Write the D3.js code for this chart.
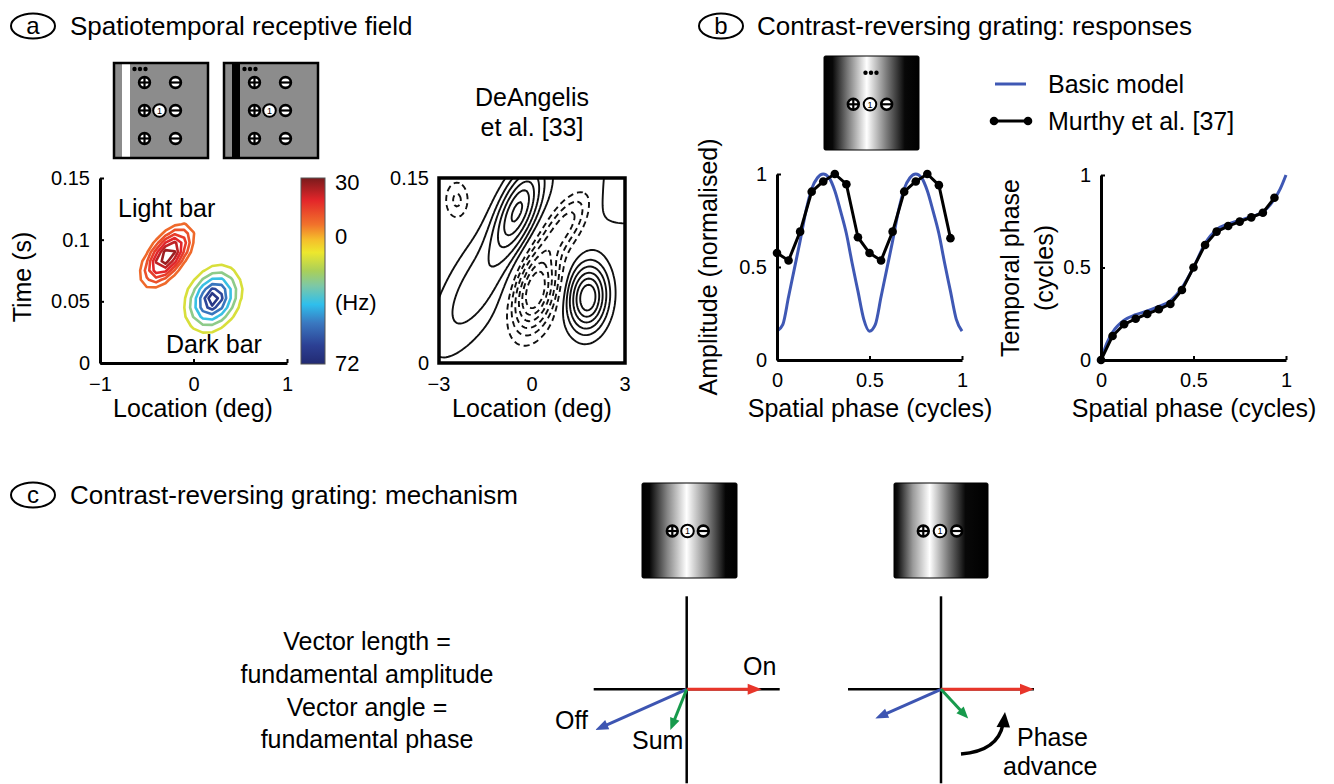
<!DOCTYPE html>
<html><head><meta charset="utf-8">
<script src="https://cdn.jsdelivr.net/npm/d3@7"></script>
<style>
html,body{margin:0;padding:0;background:#fff;}
svg{display:block;font-family:"Liberation Sans",Arial,Helvetica,sans-serif;}
</style></head><body>
<svg id="c" width="1334" height="784"></svg>
<script>
// ================= DATA =================
// Panel a, left: receptive field (blobs)
const rfLocTicks = [-1, 0, 1];
const rfLocTickLabels = ["−1", "0", "1"];
const rfTimeTicks = [0, 0.05, 0.1, 0.15];
const rfTimeTickLabels = ["0", "0.05", "0.1", "0.15"];
// [loc (deg), time (s), sd loc, sd time, correlation, amplitude (Hz)]
const rfBlobs = [
  [-0.28, 0.087, 0.16, 0.0145, 0.6, 30],
  [0.21, 0.052, 0.17, 0.015, 0.25, -72]
];
const lightLevels = [6, 10, 14, 18, 22, 26];       // Hz
const darkLevels = [-14, -26, -38, -50, -60, -66];  // Hz
// colour bar
const cbarRange = [30, -72];
const cbarStopPos = [0, 0.12, 0.25, 0.33, 0.40, 0.50, 0.58, 0.68, 0.78, 0.90, 1];
const cbarStopColors = ["#7a1a1c", "#e3262a", "#f1722b", "#f5bd2b", "#ede72d", "#a9cf5a", "#7dc8a6", "#2fbfec", "#3a78c0", "#2c4094", "#222a72"];
const cbarLabels = ["30", "0", "(Hz)", "72"];
const cbarLabelAt = [27.5, -2.2, -38, -71.5];

// Panel a, right: DeAngelis et al.
const deaLocTicks = [-3, 0, 3];
const deaLocTickLabels = ["−3", "0", "3"];
const deaTimeTicks = [0, 0.15];
const deaTimeTickLabels = ["0", "0.15"];
// [loc (deg), time (s), sd along (px), sd across (px), tilt (deg), amplitude]
const deaBlobs = [
  [-0.45, 0.125, 30, 12, 68, 0.75],
  [-1.74, 0.063, 55, 20, 60, 0.3],
  [0.1, 0.058, 26, 13, 75, -1.0],
  [1.06, 0.112, 30, 11, 55, -0.45],
  [1.8, 0.053, 22, 13, 85, 0.95],
  [-2.42, 0.132, 13, 8, 90, -0.25],
  [3.0, 0.14, 35, 28, 0, 0.2]
];
const deaLevels = [0.1, 0.22, 0.35, 0.5, 0.65, 0.8];

// Panel b
const phaseTicks = [0, 0.5, 1];
const phaseTickLabels = ["0", "0.5", "1"];
const murthyX = [0, 0.0625, 0.125, 0.1875, 0.25, 0.3125, 0.375, 0.4375, 0.5, 0.5625, 0.625, 0.6875, 0.75, 0.8125, 0.875, 0.9375];
const murthyAmp = [0.575, 0.535, 0.69, 0.905, 0.96, 1.0, 0.945, 0.66, 0.575, 0.535, 0.69, 0.905, 0.96, 1.0, 0.94, 0.655];
const murthyPhase = [0, 0.13, 0.193, 0.223, 0.249, 0.274, 0.303, 0.378, 0.5, 0.622, 0.694, 0.724, 0.748, 0.771, 0.796, 0.877];
const modelAmpX = [0, 0.03125, 0.0625, 0.09375, 0.125, 0.15625, 0.1875, 0.21875, 0.25, 0.28125, 0.3125, 0.34375, 0.375, 0.40625, 0.4375, 0.46875, 0.5,
  0.53125, 0.5625, 0.59375, 0.625, 0.65625, 0.6875, 0.71875, 0.75, 0.78125, 0.8125, 0.84375, 0.875, 0.90625, 0.9375, 0.96875, 1];
const modelAmp = [0.155, 0.19, 0.34, 0.49, 0.64, 0.80, 0.92, 0.98, 1.0, 0.98, 0.91, 0.80, 0.68, 0.52, 0.37, 0.22, 0.155,
  0.19, 0.34, 0.49, 0.64, 0.80, 0.92, 0.98, 1.0, 0.98, 0.91, 0.80, 0.68, 0.52, 0.37, 0.22, 0.155];
const modelPhaseX = [0, 0.03125, 0.0625, 0.125, 0.1875, 0.25, 0.3125, 0.375, 0.4375, 0.5, 0.5625, 0.625, 0.6875, 0.75, 0.8125, 0.875, 0.9375, 0.96875, 1];
const modelPhase = [0, 0.09, 0.15, 0.215, 0.245, 0.265, 0.29, 0.32, 0.39, 0.5, 0.63, 0.705, 0.735, 0.755, 0.775, 0.8, 0.87, 0.925, 1.0];
const legendLabels = ["Basic model", "Murthy et al. [37]"];

// Panel c: vectors (amplitude, angle in degrees)
const onAmp = [0.75, 0.93], onAngle = [0, 0];
const offAmp = [1.0, 0.72], offAngle = [-156, -156];
const vecLabels = ["On", "Off", "Sum"];
const mechText = ["Vector length =", "fundamental amplitude", "Vector angle =", "fundamental phase"];

// grating profiles (position fraction, grey)
const gratingB = [[0, "#000"], [0.09, "#080808"], [0.25, "#7a7a7a"], [0.45, "#fff"], [0.66, "#7a7a7a"], [0.85, "#080808"], [1, "#000"]];
const gratingC1 = [[0, "#000"], [0.08, "#050505"], [0.27, "#888"], [0.47, "#fff"], [0.68, "#888"], [0.88, "#050505"], [1, "#000"]];
const gratingC2 = [[0, "#000"], [0.04, "#111"], [0.2, "#9a9a9a"], [0.38, "#fff"], [0.58, "#777"], [0.76, "#080808"], [1, "#000"]];

// ================= DRAWING =================
const svg = d3.select("#c");
svg.append("rect").attr("width", 1334).attr("height", 784).attr("fill", "#fff");
const defs = svg.append("defs");

function txt(x, y, s, size, anchor, g) {
  return (g || svg).append("text").attr("x", x).attr("y", y).attr("font-size", size)
    .attr("text-anchor", anchor || "start").attr("fill", "#000").text(s);
}
function vtxt(x, y, s, size) {
  return svg.append("text").attr("transform", `translate(${x},${y}) rotate(-90)`)
    .attr("font-size", size).attr("text-anchor", "middle").text(s);
}
function panelLabel(cx, cy, letter, title, tx) {
  svg.append("ellipse").attr("cx", cx).attr("cy", cy).attr("rx", 22).attr("ry", 12.5)
    .attr("fill", "none").attr("stroke", "#000").attr("stroke-width", 2);
  txt(cx, cy + 8, letter, 24, "middle");
  txt(tx, cy + 9, title, 26);
}
panelLabel(33, 26, "a", "Spatiotemporal receptive field", 70);
panelLabel(721, 26, "b", "Contrast-reversing grating: responses", 757);
panelLabel(33, 495, "c", "Contrast-reversing grating: mechanism", 70);

// symbols
function sym(g, type, cx, cy) {
  if (type === "one") {
    g.append("circle").attr("cx", cx).attr("cy", cy).attr("r", 6.3).attr("fill", "#fff").attr("stroke", "#000").attr("stroke-width", 2);
    g.append("text").attr("x", cx).attr("y", cy + 3.3).attr("font-size", 9).attr("text-anchor", "middle").text("1");
    return;
  }
  g.append("circle").attr("cx", cx).attr("cy", cy).attr("r", 5.4).attr("fill", "#fff").attr("stroke", "#000").attr("stroke-width", 2.6);
  g.append("line").attr("x1", cx - 5).attr("x2", cx + 5).attr("y1", cy).attr("y2", cy).attr("stroke", "#000").attr("stroke-width", 2.2);
  if (type === "plus")
    g.append("line").attr("x1", cx).attr("x2", cx).attr("y1", cy - 5).attr("y2", cy + 5).attr("stroke", "#000").attr("stroke-width", 2.2);
}
function dots(g, cx, cy) {
  [-5.5, 0, 5.5].forEach(d => g.append("circle").attr("cx", cx + d).attr("cy", cy).attr("r", 2.2).attr("fill", "#000"));
}

// ---- panel a icons ----
[[114, "#fff"], [224, "#000"]].forEach(([x0, barCol]) => {
  const g = svg.append("g");
  g.append("rect").attr("x", x0).attr("y", 63).attr("width", 94).attr("height", 95).attr("fill", "#8c8c8c");
  g.append("rect").attr("x", x0 + 8).attr("y", 63).attr("width", 8).attr("height", 95).attr("fill", barCol);
  g.append("rect").attr("x", x0).attr("y", 63).attr("width", 94).attr("height", 95).attr("fill", "none").attr("stroke", "#000").attr("stroke-width", 2.5);
  dots(g, x0 + 26, 69);
  [19.5, 47.5, 75.5].forEach(dy => { sym(g, "plus", x0 + 30.5, 63 + dy); sym(g, "minus", x0 + 61.5, 63 + dy); });
  sym(g, "one", x0 + 45.5, 63 + 47.5);
});

// ---- contour helpers ----
function field(fn, x0, x1, nx, t0, t1, ny) {
  const dx = (x1 - x0) / (nx - 1), dt = (t1 - t0) / (ny - 1);
  const vals = new Array(nx * ny).fill(0);
  for (let j = 0; j < ny; j++) for (let i = 0; i < nx; i++) vals[j * nx + i] = fn(x0 + i * dx, t0 + j * dt);
  return { vals, nx, ny, x0, dx, t0, dt };
}
function contourPaths(grid, levels, sign, xs, ys) {
  const v = grid.vals.map(d => d * sign);
  const cs = d3.contours().size([grid.nx, grid.ny]).thresholds(levels)(v);
  const proj = d3.geoTransform({
    point(px, py) { this.stream.point(xs(grid.x0 + (px - 0.5) * grid.dx), ys(grid.t0 + (py - 0.5) * grid.dt)); }
  });
  const path = d3.geoPath(proj);
  return cs.map(c => ({ value: c.value * sign, d: path(c) }));
}
function styleAxis(g, w) {
  g.selectAll(".domain").attr("stroke-width", w || 3).attr("stroke", "#000");
  g.selectAll(".tick line").attr("stroke-width", 2).attr("stroke", "#000");
  g.selectAll(".tick text").attr("font-size", 20).attr("font-family", null).attr("fill", "#000");
}

// ---- panel a left: RF contours ----
const xA = d3.scaleLinear([-1, 1], [100, 287]);
const yA = d3.scaleLinear([0, 0.15], [363, 178]);
const jet = d3.scaleLinear().domain(cbarStopPos).range(cbarStopColors);
const hzT = d3.scaleLinear(cbarRange, [0, 1]);
const rfFn = (x, t) => d3.sum(rfBlobs, ([bx, bt, sx, st, rho, a]) => {
  const u = (x - bx) / sx, v = (t - bt) / st;
  return a * Math.exp(-(u * u - 2 * rho * u * v + v * v) / (2 * (1 - rho * rho)));
});
const gridA = field(rfFn, -1, 1, 21, 0, 0.15, 21);
const gA = svg.append("g");
contourPaths(gridA, lightLevels, 1, xA, yA).concat(contourPaths(gridA, darkLevels.map(d => -d), -1, xA, yA))
  .forEach(c => gA.append("path").attr("d", c.d).attr("fill", "none").attr("stroke", jet(hzT(c.value))).attr("stroke-width", 2.6).attr("stroke-linejoin", "round"));
const axAx = svg.append("g").attr("transform", "translate(0,363)")
  .call(d3.axisBottom(xA).tickValues(rfLocTicks).tickFormat((d, i) => rfLocTickLabels[i]).tickSizeInner(-4).tickSizeOuter(0).tickPadding(14));
styleAxis(axAx);
const axAy = svg.append("g").attr("transform", "translate(100,0)")
  .call(d3.axisLeft(yA).tickValues(rfTimeTicks).tickFormat((d, i) => rfTimeTickLabels[i]).tickSizeInner(-4).tickSizeOuter(0).tickPadding(10));
styleAxis(axAy);
txt(118, 217, "Light bar", 25);
txt(166, 353, "Dark bar", 25);
vtxt(31, 277, "Time (s)", 25);
txt(193, 417, "Location (deg)", 25, "middle");

// colour bar
const cbY = d3.scaleLinear(cbarRange, [178, 364]);
const lg = defs.append("linearGradient").attr("id", "jet").attr("x1", 0).attr("x2", 0).attr("y1", 0).attr("y2", 1);
cbarStopPos.forEach((p, i) => lg.append("stop").attr("offset", p).attr("stop-color", cbarStopColors[i]));
svg.append("rect").attr("x", 301).attr("y", cbY(30)).attr("width", 24).attr("height", cbY(-72) - cbY(30))
  .attr("fill", "url(#jet)").attr("stroke", "#555").attr("stroke-width", 1);
cbarLabels.forEach((s, i) => txt(335, cbY(cbarLabelAt[i]) + 7.5, s, 22));

// ---- panel a right: DeAngelis ----
const xD = d3.scaleLinear([-3, 3], [439, 625]);
const yD = d3.scaleLinear([0, 0.15], [363, 178]);
defs.append("clipPath").attr("id", "deaClip").append("rect").attr("x", 439).attr("y", 178).attr("width", 186).attr("height", 185);
const deaFn = (x, t) => d3.sum(deaBlobs, ([bx, bt, sa, sc, ang, a]) => {
  const ddx = xD(x) - xD(bx), ddy = yD(bt) - yD(t);
  const th = ang * Math.PI / 180;
  const al = ddx * Math.cos(th) + ddy * Math.sin(th), ac = -ddx * Math.sin(th) + ddy * Math.cos(th);
  return a * Math.exp(-0.5 * (al * al / (sa * sa) + ac * ac / (sc * sc)));
});
const gridD = field(deaFn, -3.3, 3.3, 100, -0.01, 0.16, 100);
const gD = svg.append("g").attr("clip-path", "url(#deaClip)");
contourPaths(gridD, deaLevels, 1, xD, yD).forEach(c =>
  gD.append("path").attr("d", c.d).attr("fill", "none").attr("stroke", "#111").attr("stroke-width", 1.9));
contourPaths(gridD, deaLevels, -1, xD, yD).forEach(c =>
  gD.append("path").attr("d", c.d).attr("fill", "none").attr("stroke", "#111").attr("stroke-width", 1.9).attr("stroke-dasharray", "6,4"));
svg.append("rect").attr("x", xD(-3)).attr("y", yD(0.15)).attr("width", xD(3) - xD(-3)).attr("height", yD(0) - yD(0.15))
  .attr("fill", "none").attr("stroke", "#000").attr("stroke-width", 3.5);
deaLocTicks.forEach((d, i) => txt(xD(d), 391, deaLocTickLabels[i], 20, "middle"));
deaTimeTicks.forEach((d, i) => txt(429, yD(d) + 7, deaTimeTickLabels[i], 20, "end"));
txt(532, 417, "Location (deg)", 25, "middle");
txt(532, 106, "DeAngelis", 25, "middle");
txt(532, 136, "et al. [33]", 25, "middle");

// ---- gratings ----
function grating(id, stops, x, y, w, h, syms, dotY) {
  const gr = defs.append("linearGradient").attr("id", id).attr("x1", 0).attr("x2", 1).attr("y1", 0).attr("y2", 0);
  stops.forEach(([p, c]) => gr.append("stop").attr("offset", p).attr("stop-color", c));
  const g = svg.append("g");
  g.append("rect").attr("x", x).attr("y", y).attr("width", w).attr("height", h).attr("fill", `url(#${id})`).attr("stroke", "#000").attr("stroke-width", 1).attr("rx", 1.5);
  const cx = syms;
  sym(g, "plus", cx[0], cx[3]); sym(g, "one", cx[1], cx[3]); sym(g, "minus", cx[2], cx[3]);
  if (dotY) dots(g, cx[1] + 1, dotY);
}
grating("grB", gratingB, 824, 56, 95, 94, [853.3, 870, 886.7, 104.3], 72.7);
grating("grC1", gratingC1, 642, 483, 95, 95, [672.3, 687.5, 703.3, 531]);
grating("grC2", gratingC2, 894, 483, 94, 95, [923.3, 940, 956.7, 531]);

// ---- panel b amplitude ----
const xB = d3.scaleLinear([0, 1], [777, 962]);
const yB = d3.scaleLinear([0, 1], [360, 174]);
const blue = "#3f58b4";
svg.append("path").attr("d", d3.line().x((d, i) => xB(modelAmpX[i])).y(d => yB(d)).curve(d3.curveMonotoneX)(modelAmp))
  .attr("fill", "none").attr("stroke", blue).attr("stroke-width", 3);
svg.append("path").attr("d", d3.line().x((d, i) => xB(murthyX[i])).y(d => yB(d))(murthyAmp))
  .attr("fill", "none").attr("stroke", "#000").attr("stroke-width", 3).attr("stroke-linejoin", "round");
murthyAmp.forEach((d, i) => svg.append("circle").attr("cx", xB(murthyX[i])).attr("cy", yB(d)).attr("r", 4.3).attr("fill", "#000"));
const axBx = svg.append("g").attr("transform", "translate(0,360)")
  .call(d3.axisBottom(xB).tickValues(phaseTicks).tickFormat((d, i) => phaseTickLabels[i]).tickSizeInner(-4).tickSizeOuter(0).tickPadding(13));
styleAxis(axBx);
const axBy = svg.append("g").attr("transform", "translate(777,0)")
  .call(d3.axisLeft(yB).tickValues(phaseTicks).tickFormat((d, i) => phaseTickLabels[i]).tickSizeInner(-4).tickSizeOuter(0).tickPadding(10));
styleAxis(axBy);
vtxt(717, 267, "Amplitude (normalised)", 25);
txt(870, 417, "Spatial phase (cycles)", 25, "middle");

// ---- panel b phase ----
const xC = d3.scaleLinear([0, 1], [1101, 1286]);
const yC = d3.scaleLinear([0, 1], [360, 175]);
svg.append("path").attr("d", d3.line().x((d, i) => xC(modelPhaseX[i])).y(d => yC(d)).curve(d3.curveMonotoneX)(modelPhase))
  .attr("fill", "none").attr("stroke", blue).attr("stroke-width", 3);
svg.append("path").attr("d", d3.line().x((d, i) => xC(murthyX[i])).y(d => yC(d))(murthyPhase))
  .attr("fill", "none").attr("stroke", "#000").attr("stroke-width", 3).attr("stroke-linejoin", "round");
murthyPhase.forEach((d, i) => svg.append("circle").attr("cx", xC(murthyX[i])).attr("cy", yC(d)).attr("r", 4.3).attr("fill", "#000"));
const axCx = svg.append("g").attr("transform", "translate(0,360)")
  .call(d3.axisBottom(xC).tickValues(phaseTicks).tickFormat((d, i) => phaseTickLabels[i]).tickSizeInner(-4).tickSizeOuter(0).tickPadding(13));
styleAxis(axCx);
const axCy = svg.append("g").attr("transform", "translate(1101,0)")
  .call(d3.axisLeft(yC).tickValues(phaseTicks).tickFormat((d, i) => phaseTickLabels[i]).tickSizeInner(-4).tickSizeOuter(0).tickPadding(10));
styleAxis(axCy);
vtxt(1019, 268, "Temporal phase", 25);
vtxt(1053, 268, "(cycles)", 25);
txt(1194, 417, "Spatial phase (cycles)", 25, "middle");

// legend
svg.append("line").attr("x1", 995).attr("x2", 1026).attr("y1", 84).attr("y2", 84).attr("stroke", blue).attr("stroke-width", 3);
txt(1048, 93, legendLabels[0], 25);
svg.append("line").attr("x1", 994).attr("x2", 1028).attr("y1", 121).attr("y2", 121).attr("stroke", "#000").attr("stroke-width", 3);
[994, 1028].forEach(x => svg.append("circle").attr("cx", x).attr("cy", 121).attr("r", 4.3).attr("fill", "#000"));
txt(1048, 130, legendLabels[1], 25);

// ---- panel c ----
mechText.forEach((s, i) => txt(367, [650, 683, 716, 748][i], s, 25, "middle"));

function arrow(g, x1, y1, x2, y2, col, L, W) {
  const dx = x2 - x1, dy = y2 - y1, len = Math.hypot(dx, dy), ux = dx / len, uy = dy / len;
  const bx = x2 - ux * L, by = y2 - uy * L;
  g.append("line").attr("x1", x1).attr("y1", y1).attr("x2", bx + ux * 1).attr("y2", by + uy * 1).attr("stroke", col).attr("stroke-width", 3);
  g.append("path").attr("d", `M${x2},${y2}L${bx - uy * W / 2},${by + ux * W / 2}L${bx + uy * W / 2},${by - ux * W / 2}Z`).attr("fill", col);
}
const red = "#e8352a", vblue = "#3d55b2", green = "#179a4c";
[686.7, 941].forEach((ox, k) => {
  const oy = 689.3;
  const vx = d3.scaleLinear([-1, 1], [ox - 100, ox + 100]);
  const vy = d3.scaleLinear([-1, 1], [oy + 100, oy - 100]);
  const g = svg.append("g");
  g.append("line").attr("x1", vx(-0.93)).attr("x2", vx(0.93)).attr("y1", vy(0)).attr("y2", vy(0)).attr("stroke", "#000").attr("stroke-width", 2.5);
  g.append("line").attr("x1", vx(0)).attr("x2", vx(0)).attr("y1", vy(0.93)).attr("y2", vy(-0.94)).attr("stroke", "#000").attr("stroke-width", 2.5);
  const on = [onAmp[k] * Math.cos(onAngle[k] * Math.PI / 180), onAmp[k] * Math.sin(onAngle[k] * Math.PI / 180)];
  const off = [offAmp[k] * Math.cos(offAngle[k] * Math.PI / 180), offAmp[k] * Math.sin(offAngle[k] * Math.PI / 180)];
  const sum = [on[0] + off[0], on[1] + off[1]];
  arrow(g, vx(0), vy(0), vx(on[0]), vy(on[1]), red, 14, 11);
  arrow(g, vx(0), vy(0), vx(off[0]), vy(off[1]), vblue, 13, 10);
  arrow(g, vx(0), vy(0), vx(sum[0]), vy(sum[1]), green, 12, 10);
  if (k === 0) {
    txt(743, 675, vecLabels[0], 25);
    txt(555, 729, vecLabels[1], 25);
    txt(632, 749, vecLabels[2], 25);
  }
});
// phase advance
svg.append("path").attr("d", "M961,754 Q998,751 1003,724").attr("fill", "none").attr("stroke", "#000").attr("stroke-width", 3.5);
svg.append("path").attr("d", "M1005,712 L996.5,727 L1010,727.5 Z").attr("fill", "#000");
txt(1017, 746, "Phase", 25);
txt(1003, 775, "advance", 25);
</script>
</body></html>
